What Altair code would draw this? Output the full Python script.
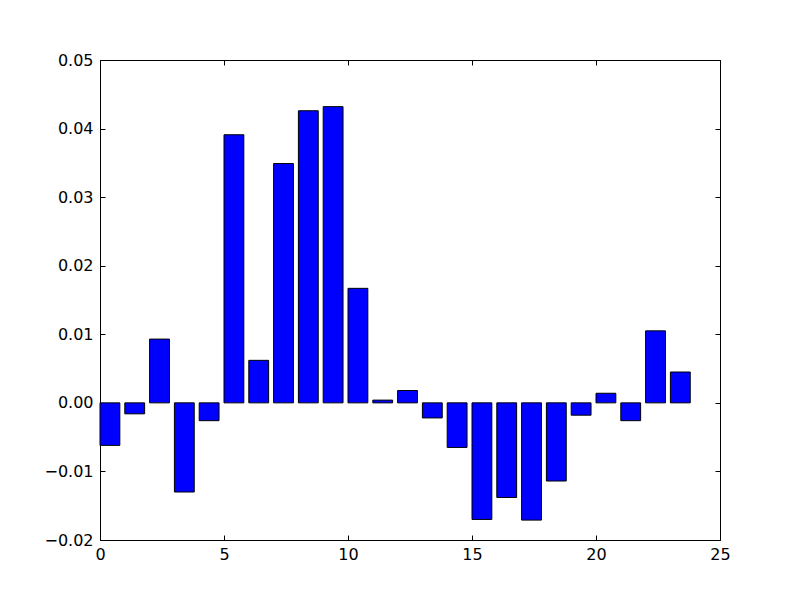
import altair as alt
import pandas as pd

positions = list(range(24))
values = [-0.0062, -0.0016, 0.0093, -0.0130, -0.0026, 0.0391, 0.0062, 0.0349,
          0.0426, 0.0432, 0.0167, 0.0004, 0.0018, -0.0022, -0.0065, -0.0170,
          -0.0138, -0.0171, -0.0114, -0.0018, 0.0014, -0.0026, 0.0105, 0.0045]
x_ticks = [0, 5, 10, 15, 20, 25]
y_ticks = [-0.02, -0.01, 0.0, 0.01, 0.02, 0.03, 0.04, 0.05]

df = pd.DataFrame({"left": positions, "value": values})
df["right"] = df["left"] + 0.8
df["zero"] = 0.0

xs = alt.Scale(domain=[0, 25], nice=False, zero=False)
ys = alt.Scale(domain=[-0.02, 0.05], nice=False, zero=False)
FONT = "DejaVu Sans"

def xaxis(orient, labels, ticks, offset=0):
    return alt.Axis(orient=orient, values=x_ticks, labels=labels, ticks=ticks, tickSize=5,
                    tickColor="black", tickWidth=1, offset=offset, domain=False, grid=False,
                    title=None, labelFont=FONT, labelFontSize=16, labelColor="black",
                    labelPadding=6, format="d", labelFlush=False, labelOverlap=False)

def yaxis(orient, labels, ticks, offset=0):
    return alt.Axis(orient=orient, values=y_ticks, labels=labels, ticks=ticks, tickSize=5,
                    tickColor="black", tickWidth=1, offset=offset, domain=False, grid=False,
                    title=None, labelFont=FONT, labelFontSize=16, labelColor="black",
                    labelPadding=7, format=".2f", labelFlush=False, labelOverlap=False)

bars = alt.Chart(df).mark_bar(color="#0000ff", stroke="black", strokeWidth=1).encode(
    x=alt.X("left:Q", scale=xs, axis=xaxis("bottom", True, False)),
    x2="right:Q",
    y=alt.Y("value:Q", scale=ys, axis=yaxis("left", True, False)),
    y2="zero:Q",
)

ticks1 = alt.Chart(df).mark_point(opacity=0).encode(
    x=alt.X("left:Q", scale=xs, axis=xaxis("bottom", False, True, -5)),
    y=alt.Y("value:Q", scale=ys, axis=yaxis("left", False, True, -5)),
)

ticks2 = alt.Chart(df).mark_point(opacity=0).encode(
    x=alt.X("left:Q", scale=xs, axis=xaxis("top", False, True, -5)),
    y=alt.Y("value:Q", scale=ys, axis=yaxis("right", False, True, -5)),
)

chart = alt.layer(bars, ticks1, ticks2).resolve_axis(
    x="independent", y="independent"
).properties(
    width=620, height=480,
    background="white",
    autosize=alt.AutoSizeParams(type="none"),
    padding={"left": 92, "top": 52, "right": 72, "bottom": 52},
).configure_view(stroke="black", strokeWidth=1)

chart.save("out.html", embed_options={"renderer": "svg", "actions": False})
